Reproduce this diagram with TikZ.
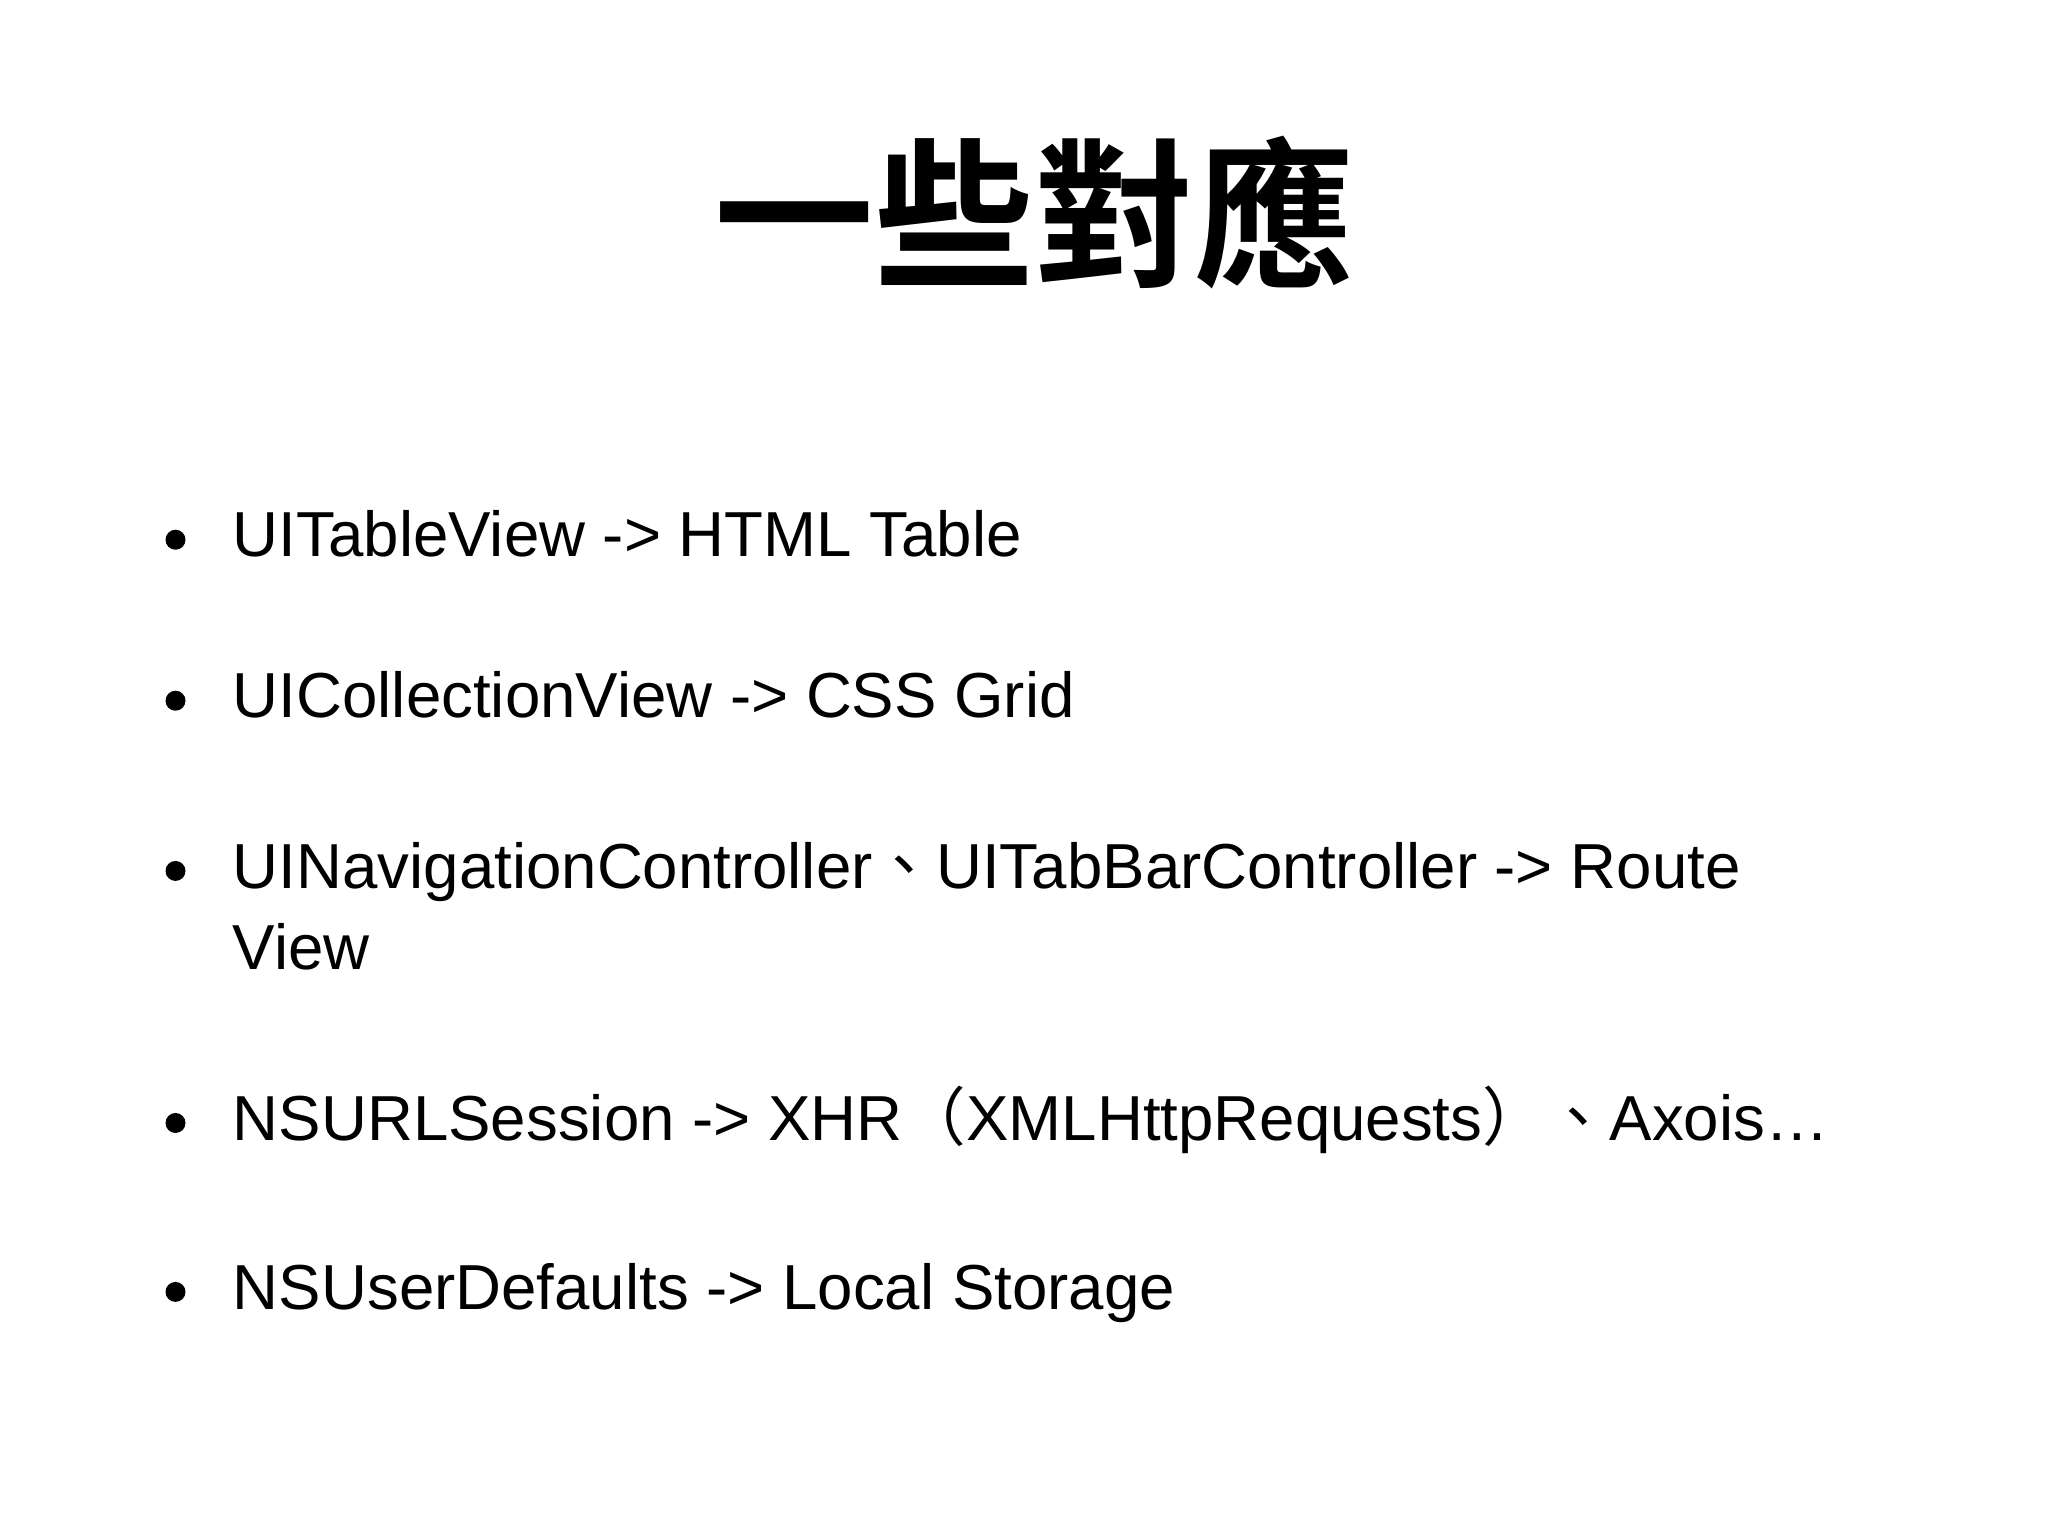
\documentclass[tikz,border=0pt]{standalone}
\usepackage{fontspec}
\setmainfont{Liberation Sans}
\newfontfamily\cjk{Noto Sans CJK TC}
\newfontfamily\cjkb{Noto Sans CJK TC Bold}
\begin{document}
\begin{tikzpicture}[x=0.0132cm,y=-0.0132cm,
  item/.style={anchor=base west,inner sep=0pt,font=\fontsize{18.1}{22}\selectfont},
  dot/.style={circle,fill=black,inner sep=0pt,minimum size=0.2cm}]
\useasboundingbox[fill=white] (0,0) rectangle (1552,1164);
\node[font=\cjkb\fontsize{45.5}{50}\selectfont,inner sep=0pt] (title) at (784,161) {一些對應};
\node[dot] (b1) at (133,409) {};
\node[item] (t1) at (176,422) {UITableView -> HTML Table};
\node[dot] (b2) at (133,531) {};
\node[item] (t2) at (176,544) {UICollectionView -> CSS Grid};
\node[dot] (b3) at (133,660) {};
\node[item] (t3) at (176,673) {UINavigationController{\cjk 、}UITabBarController -> Route};
\node[item] (t3b) at (176,735) {View};
\node[dot] (b4) at (133,851) {};
\node[item] (t4) at (176,864) {NSURLSession -> XHR{\cjk （}XMLHttpRequests{\cjk ）}{\cjk 、}Axois…};
\node[dot] (b5) at (133,979) {};
\node[item] (t5) at (176,992) {NSUserDefaults -> Local Storage};
\end{tikzpicture}
\end{document}
